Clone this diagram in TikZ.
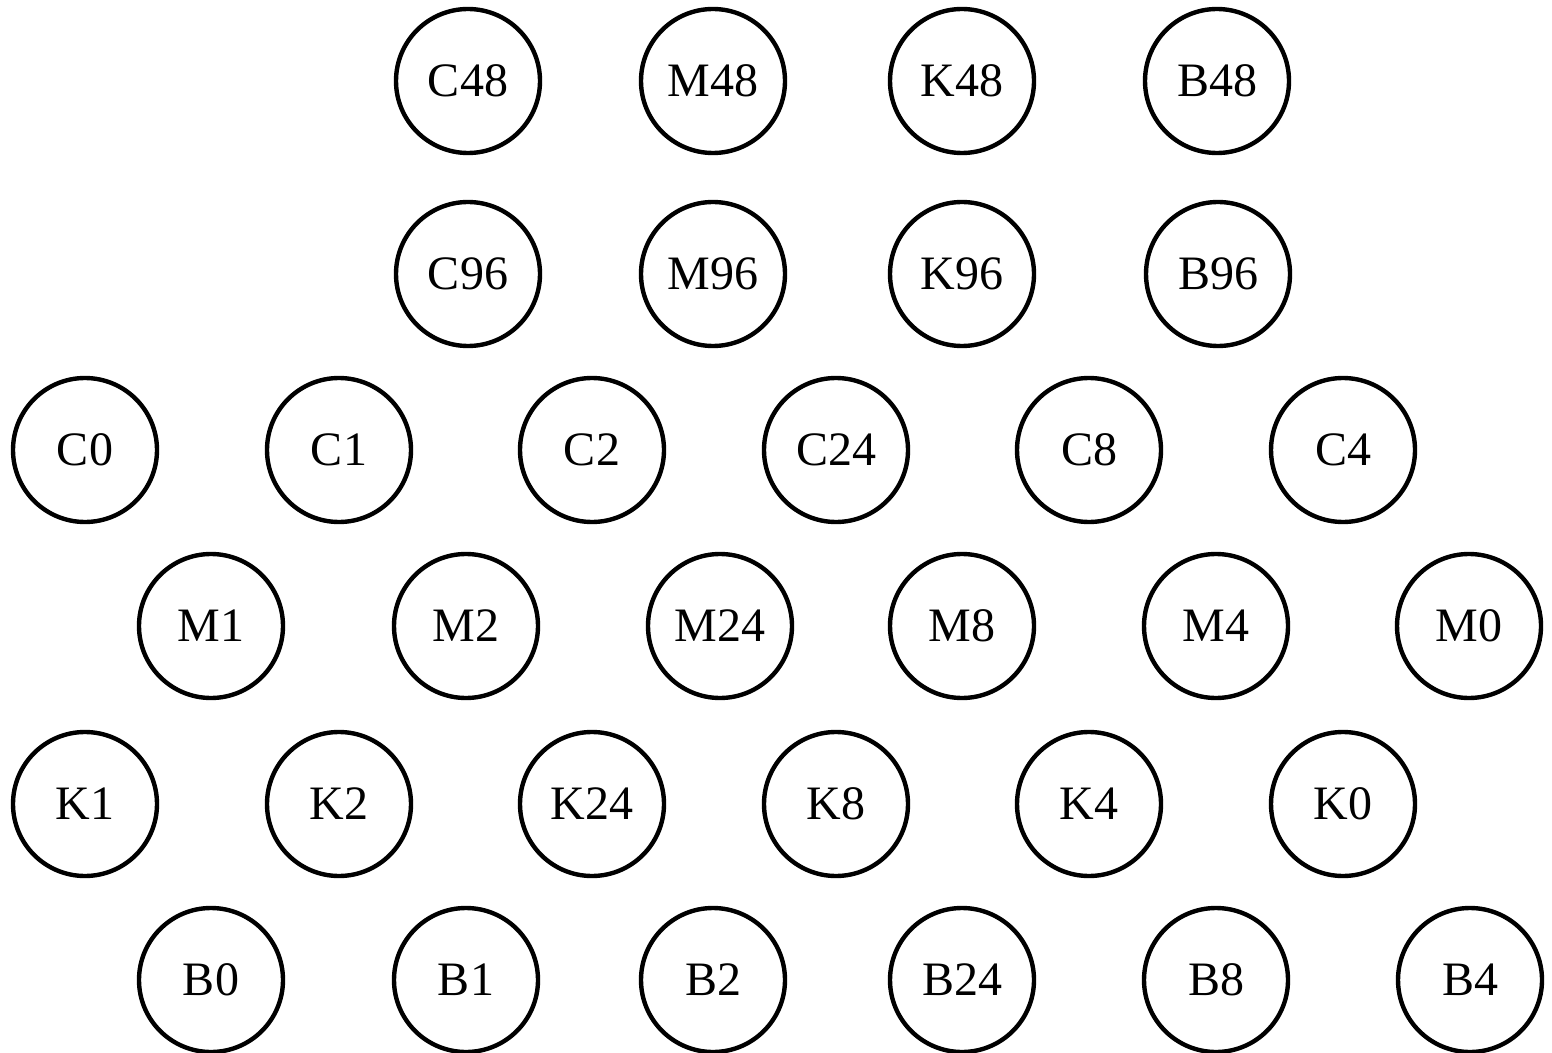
\documentclass[tikz,border=0pt]{standalone}
\usepackage{fontspec}
\setmainfont{Liberation Serif}
\usetikzlibrary{positioning}

\begin{document}
\begin{tikzpicture}[
    x=0.5pt, y=-0.5pt,
    reg/.style={draw, circle, line width=2.2pt, minimum size=72pt,
                inner sep=0pt, font=\fontsize{24}{28}\selectfont}
  ]
  \useasboundingbox (0, 0) rectangle (1552, 1053);

  % Top rows
  \foreach \n/\x in {C48/468, M48/713, K48/962, B48/1217}
    \node[reg] (\n) at (\x, 81) {\n};
  \foreach \n/\x in {C96/468, M96/713, K96/962, B96/1218}
    \node[reg] (\n) at (\x, 274) {\n};

  % C row
  \foreach \n/\x in {C0/85, C1/339, C2/592, C24/836, C8/1089, C4/1343}
    \node[reg] (\n) at (\x, 450) {\n};

  % M row
  \foreach \n/\x in {M1/211, M2/466, M24/720, M8/962, M4/1216, M0/1469}
    \node[reg] (\n) at (\x, 626) {\n};

  % K row
  \foreach \n/\x in {K1/85, K2/339, K24/592, K8/836, K4/1089, K0/1343}
    \node[reg] (\n) at (\x, 804) {\n};

  % B row
  \foreach \n/\x in {B0/211, B1/466, B2/713, B24/962, B8/1216, B4/1470}
    \node[reg] (\n) at (\x, 980) {\n};
\end{tikzpicture}
\end{document}
